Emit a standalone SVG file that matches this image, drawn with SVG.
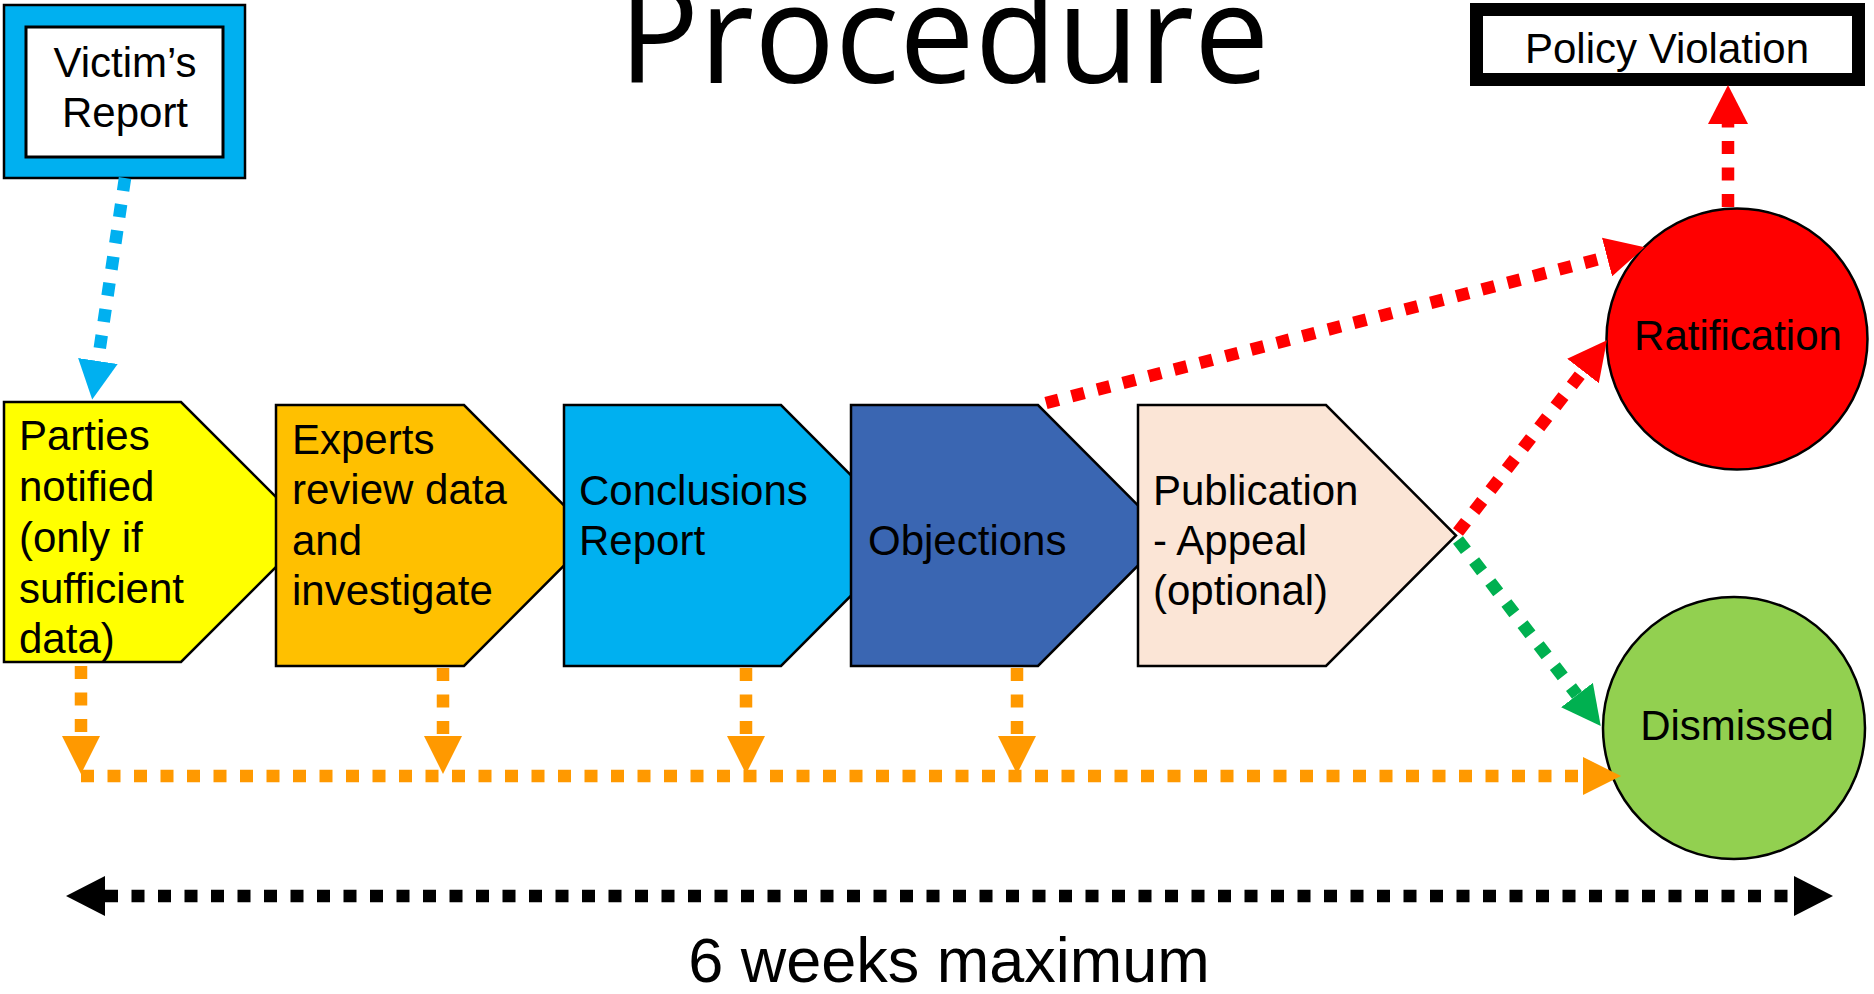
<svg xmlns="http://www.w3.org/2000/svg" width="1874" height="994" viewBox="0 0 1874 994">
<style>
  .t{font-family:"Liberation Sans",Arial,sans-serif;font-size:42px;fill:#000}
  .c{text-anchor:middle}
  .shape{stroke:#000;stroke-width:2.5;stroke-linejoin:miter}
  .dash{fill:none;stroke-width:12.5;stroke-dasharray:13 13.5}
</style>
<defs>
  <marker id="mBlue" markerUnits="userSpaceOnUse" markerWidth="40" markerHeight="40" refX="0" refY="20" orient="auto" viewBox="0 0 40 40"><path d="M0,0 L39,20 L0,40 Z" fill="#00B0F0"/></marker>
  <marker id="mOrange" markerUnits="userSpaceOnUse" markerWidth="40" markerHeight="40" refX="0" refY="20" orient="auto" viewBox="0 0 40 40"><path d="M0,1 L38,20 L0,39 Z" fill="#FF9900"/></marker>
  <marker id="mRed" markerUnits="userSpaceOnUse" markerWidth="40" markerHeight="40" refX="0" refY="20" orient="auto" viewBox="0 0 40 40"><path d="M0,0 L39,20 L0,40 Z" fill="#FF0000"/></marker>
  <marker id="mGreen" markerUnits="userSpaceOnUse" markerWidth="40" markerHeight="40" refX="0" refY="20" orient="auto" viewBox="0 0 40 40"><path d="M0,0 L39,20 L0,40 Z" fill="#00B050"/></marker>
  <marker id="mBlack" markerUnits="userSpaceOnUse" markerWidth="40" markerHeight="40" refX="0" refY="20" orient="auto-start-reverse" viewBox="0 0 40 40"><path d="M0,0 L39,20 L0,40 Z" fill="#000"/></marker>
</defs>
<rect width="1874" height="994" fill="#fff"/>

<text x="944" y="83" text-anchor="middle" font-family="'Open Sans','Liberation Sans',sans-serif" font-size="138" textLength="651" lengthAdjust="spacingAndGlyphs" fill="#000">Procedure</text>

<g id="victims-report">
  <rect x="4" y="5" width="241" height="173" fill="#00B0F0" stroke="#000" stroke-width="2.5"/>
  <rect x="26" y="27" width="197" height="130" fill="#fff" stroke="#000" stroke-width="3"/>
  <text class="t c" x="125" y="77">Victim’s</text>
  <text class="t c" x="125" y="127">Report</text>
</g>

<g id="policy-violation">
  <rect x="1476.5" y="9.5" width="382" height="70" fill="#fff" stroke="#000" stroke-width="13"/>
  <text class="t c" x="1667" y="63">Policy Violation</text>
</g>

<g id="parties-notified">
  <path class="shape" d="M4,402 H181 L311,532 L181,662 H4 Z" fill="#FFFF00"/>
  <text class="t" x="19" y="450">Parties</text>
  <text class="t" x="19" y="501">notified</text>
  <text class="t" x="19" y="552">(only if</text>
  <text class="t" x="19" y="603">sufficient</text>
  <text class="t" x="19" y="653">data)</text>
</g>

<g id="experts-review">
  <path class="shape" d="M276,405 H464 L594,535.5 L464,666 H276 Z" fill="#FFC000"/>
  <text class="t" x="292" y="454">Experts</text>
  <text class="t" x="292" y="504">review data</text>
  <text class="t" x="292" y="555">and</text>
  <text class="t" x="292" y="605">investigate</text>
</g>

<g id="conclusions-report">
  <path class="shape" d="M564,405 H781 L911,535.5 L781,666 H564 Z" fill="#00B0F0"/>
  <text class="t" x="579" y="505">Conclusions</text>
  <text class="t" x="579" y="555">Report</text>
</g>

<g id="objections">
  <path class="shape" d="M851,405 H1038 L1168,535.5 L1038,666 H851 Z" fill="#3A66B2"/>
  <text class="t" x="868" y="555">Objections</text>
</g>

<g id="publication-appeal">
  <path class="shape" d="M1138,405 H1326 L1456,535.5 L1326,666 H1138 Z" fill="#FBE5D6"/>
  <text class="t" x="1153" y="505">Publication</text>
  <text class="t" x="1153" y="555">- Appeal</text>
  <text class="t" x="1153" y="605">(optional)</text>
</g>

<g id="ratification">
  <circle cx="1737" cy="339" r="130.5" fill="#FF0000" stroke="#000" stroke-width="2.5"/>
  <text class="t c" x="1738" y="350">Ratification</text>
</g>

<g id="dismissed">
  <circle cx="1734" cy="728" r="131" fill="#92D050" stroke="#000" stroke-width="2.5"/>
  <text class="t c" x="1737" y="740">Dismissed</text>
</g>

<g id="connectors">
  <line class="dash" x1="125" y1="178" x2="97.9" y2="361" stroke="#00B0F0" marker-end="url(#mBlue)"/>
  <line class="dash" x1="81" y1="666" x2="81" y2="736" stroke="#FF9900" marker-end="url(#mOrange)"/>
  <line class="dash" x1="443" y1="668" x2="443" y2="736" stroke="#FF9900" marker-end="url(#mOrange)"/>
  <line class="dash" x1="746" y1="668" x2="746" y2="736" stroke="#FF9900" marker-end="url(#mOrange)"/>
  <line class="dash" x1="1017" y1="668" x2="1017" y2="736" stroke="#FF9900" marker-end="url(#mOrange)"/>
  <line class="dash" x1="81" y1="776" x2="1583" y2="776" stroke="#FF9900" marker-end="url(#mOrange)"/>
  <line class="dash" x1="1046" y1="403" x2="1607" y2="257" stroke="#FF0000" marker-end="url(#mRed)"/>
  <line class="dash" x1="1458" y1="532" x2="1583" y2="371" stroke="#FF0000" marker-end="url(#mRed)"/>
  <line class="dash" x1="1458" y1="540" x2="1577" y2="695" stroke="#00B050" marker-end="url(#mGreen)"/>
  <line class="dash" x1="1728" y1="207" x2="1728" y2="124" stroke="#FF0000" marker-end="url(#mRed)"/>
  <line class="dash" x1="105" y1="896" x2="1794" y2="896" stroke="#000" stroke-width="13.5" marker-start="url(#mBlack)" marker-end="url(#mBlack)"/>
</g>

<text x="949" y="982" text-anchor="middle" font-family="'Liberation Sans',Arial,sans-serif" font-size="63" fill="#000">6 weeks maximum</text>
</svg>
